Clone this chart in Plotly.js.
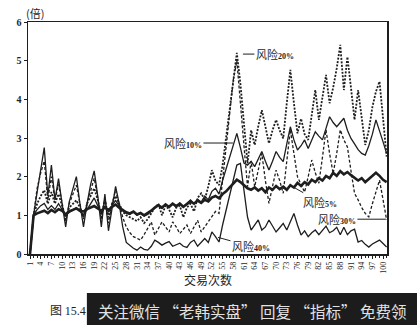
<!DOCTYPE html>
<html>
<head>
<meta charset="utf-8">
<script src="https://cdn.plot.ly/plotly-3.0.1.min.js"></script>
<style>
html,body{margin:0;padding:0;background:#fff;}
#chart{width:417px;height:325px;}
</style>
</head>
<body>
<div id="chart"></div>
<script>
// Data (multiples, by trade number 1..101)
const risk5 = [0, 1.0, 1.05, 1.08, 1.12, 1.06, 1.14, 1.08, 1.16, 1.12,
  1.02, 1.1, 1.14, 1.18, 1.12, 1.1, 1.16, 1.2, 1.24, 1.18,
  1.12, 1.2, 1.14, 1.22, 1.28, 1.2, 1.14, 1.08, 1.05, 1.1,
  1.02, 1.06, 1.0, 1.05, 1.12, 1.2, 1.26, 1.2, 1.28, 1.22,
  1.3, 1.24, 1.3, 1.22, 1.28, 1.36, 1.3, 1.38, 1.32, 1.4,
  1.36, 1.46, 1.5, 1.44, 1.55, 1.62, 1.72, 1.82, 1.92, 1.86,
  1.78, 1.7, 1.66, 1.72, 1.64, 1.7, 1.6, 1.72, 1.66, 1.76,
  1.68, 1.74, 1.66, 1.78, 1.72, 1.84, 1.76, 1.86, 1.8, 1.92,
  1.86, 1.96, 1.9, 2.02, 1.96, 2.1, 2.02, 2.14, 2.06, 2.12,
  2.04, 1.96, 1.9, 1.96, 1.86, 1.94, 2.02, 2.1, 2.02, 1.92,
  1.86];
const risk10 = [0, 1.0, 1.15, 1.25, 1.31, 1.15, 1.25, 1.15, 1.3, 1.15,
  1.0, 1.08, 1.14, 1.2, 1.1, 1.02, 1.15, 1.3, 1.45, 1.25,
  1.05, 1.25, 1.08, 1.25, 1.38, 1.25, 1.12, 1.05, 1.02, 1.08,
  1.0, 1.05, 0.98, 1.02, 1.1, 1.2, 1.28, 1.18, 1.3, 1.2,
  1.3, 1.2, 1.32, 1.22, 1.3, 1.4, 1.3, 1.42, 1.34, 1.5,
  1.4, 1.62, 1.7, 1.55, 1.9, 2.2, 2.5, 2.8, 3.12, 2.75,
  2.35, 2.3, 2.4, 2.26, 2.45, 2.65, 2.4, 2.17, 2.4, 2.65,
  2.5, 2.39, 2.85, 3.29, 2.95, 2.69, 2.8, 2.95, 2.73, 2.95,
  3.16, 3.05, 2.95, 3.25, 3.55, 3.4, 3.29, 3.4, 3.51, 3.2,
  2.99, 2.85, 2.7, 2.6, 2.56, 2.8, 3.1, 3.47, 3.2, 2.9,
  2.6];
const risk20 = [0, 1.0, 1.3, 1.5, 1.65, 1.3, 1.6, 1.3, 1.55, 1.25,
  0.95, 1.2, 1.3, 1.39, 1.2, 0.95, 1.3, 1.5, 1.7, 1.4,
  1.0, 1.4, 0.95, 1.3, 1.5, 1.3, 1.1, 1.0, 0.95, 0.9,
  0.85, 0.95, 0.8, 0.9, 1.05, 1.2, 1.3, 1.0, 1.25, 1.15,
  0.95, 1.2, 1.25, 0.95, 1.2, 1.3, 1.1, 1.45, 1.57, 1.4,
  1.75, 2.17, 1.9, 1.78, 2.3, 3.0, 3.81, 4.5, 5.2, 4.4,
  3.3, 2.34, 3.2, 2.82, 3.3, 3.72, 3.3, 2.86, 3.2, 3.47,
  3.2, 2.99, 3.9, 4.76, 3.9, 3.12, 3.5, 3.1, 2.95, 3.6,
  4.24, 3.47, 4.1, 4.63, 3.9, 4.3, 4.8, 5.41, 4.24, 5.1,
  4.3, 3.47, 4.24, 3.5, 2.82, 3.2, 3.8, 4.2, 4.46, 3.5,
  2.52];
const risk30 = [0, 1.0, 1.7, 2.1, 2.4, 1.4, 2.0, 1.4, 1.8, 1.3,
  0.85, 1.3, 1.55, 1.78, 1.3, 0.9, 1.3, 1.6, 1.96, 1.45,
  0.9, 1.45, 0.8, 1.3, 1.65, 1.3, 0.95, 0.7, 0.55, 0.45,
  0.4, 0.36, 0.5, 0.65, 0.83, 0.49, 0.65, 0.83, 0.7, 0.57,
  0.83, 0.7, 0.53, 0.65, 0.75, 0.53, 0.7, 0.87, 0.57, 0.7,
  0.83, 0.95, 1.1, 1.05, 1.9, 2.8, 3.7, 4.5, 5.0, 4.0,
  2.8, 1.74, 2.4, 1.74, 2.2, 2.6, 1.9, 1.31, 1.75, 2.17,
  1.9, 1.57, 2.4, 3.21, 2.6, 2.0, 1.8, 1.6, 2.0, 2.43,
  2.1, 1.83, 2.5, 3.21, 2.6, 2.08, 2.6, 3.21, 2.95, 2.77,
  2.15, 1.57, 1.4, 1.2, 1.05, 0.96, 1.3, 1.6, 1.91, 1.4,
  0.88];
const risk40 = [0, 1.0, 1.6, 2.2, 2.75, 1.5, 2.3, 1.4, 1.95, 1.3,
  0.7, 1.35, 1.7, 2.0, 1.3, 0.7, 1.3, 1.8, 2.15, 1.5,
  0.7, 1.55, 0.6, 1.2, 1.75, 1.3, 0.7, 0.3, 0.22, 0.15,
  0.1, 0.18, 0.12, 0.1, 0.2, 0.36, 0.3, 0.23, 0.28, 0.32,
  0.2, 0.24, 0.28, 0.2, 0.17, 0.3, 0.36, 0.2, 0.3, 0.4,
  0.3, 0.57, 0.45, 0.31, 0.75, 1.15, 1.55, 1.95, 2.3, 2.34,
  1.6, 0.95, 0.62, 0.75, 0.88, 0.62, 0.7, 0.88, 0.72, 0.57,
  0.68, 0.79, 0.62, 0.85, 1.05, 0.75, 0.49, 0.6, 0.45, 0.55,
  0.62, 0.5, 0.6, 0.72, 0.55, 0.6, 0.69, 0.5, 0.69, 0.5,
  0.6, 0.64, 0.31, 0.35, 0.25, 0.18, 0.26, 0.3, 0.36, 0.27,
  0.18];
const tickVals = [1,4,7,10,13,16,19,22,25,28,31,34,37,40,43,46,49,52,55,58,61,64,67,70,73,76,79,82,85,88,91,94,97,100];
const tickText = tickVals.map(String);
const seriesNames = ["风险5%", "风险10%", "风险20%", "风险30%", "风险40%"];

const trades = risk5.map((_, i) => i + 1);
const ink = "#1e1e1e";
const cjk = "Noto Sans CJK SC";
const serif = "Liberation Serif";

const traces = [
  {x: trades, y: risk40, name: seriesNames[4], mode: "lines", line: {color: ink, width: 1.3}},
  {x: trades, y: risk30, name: seriesNames[3], mode: "lines", line: {color: ink, width: 1.3, dash: "3px,2px"}},
  {x: trades, y: risk20, name: seriesNames[2], mode: "lines", line: {color: ink, width: 1.8, dash: "2px,1.5px"}},
  {x: trades, y: risk10, name: seriesNames[1], mode: "lines", line: {color: ink, width: 1.3}},
  {x: trades, y: risk5, name: seriesNames[0], mode: "lines", line: {color: ink, width: 2.6}}
];

function lbl(name) {
  const m = name.match(/^(\D+)(\d+%)$/);
  return m[1] + '<span style="font-family:Liberation Serif;font-weight:bold;font-size:8px">' + m[2] + '</span>';
}
function arrowNote(name, x, y, ax, ay) {
  return {x: x, y: y, xref: "x", yref: "y", text: lbl(name), showarrow: true, arrowhead: 0,
    arrowwidth: 1, arrowcolor: ink, ax: ax, ay: ay, standoff: 0,
    font: {family: cjk, size: 11, color: ink}};
}
function paperNote(text, x, y, xanchor, size, color) {
  return {x: x, y: y, xref: "paper", yref: "paper", xanchor: xanchor, yanchor: "middle",
    text: text, showarrow: false, font: {family: cjk, size: size, color: color || ink}};
}

const layout = {
  width: 417, height: 325,
  margin: {l: 28, r: 30, t: 22, b: 71, pad: 0},
  paper_bgcolor: "#fff", plot_bgcolor: "#fff",
  showlegend: false,
  xaxis: {
    range: [0.44, 101.1], tickmode: "array", tickvals: tickVals, ticktext: tickText,
    tickangle: -90, tickfont: {family: serif, size: 8, color: ink},
    ticks: "outside", ticklen: 3, tickcolor: ink, tickwidth: 1,
    showline: true, linecolor: ink, linewidth: 1.5, mirror: true,
    showgrid: false, zeroline: false,
    minor: {tick0: 1, dtick: 1, ticks: "outside", ticklen: 2, tickcolor: ink, showgrid: false}
  },
  yaxis: {
    range: [0, 6], dtick: 1, tick0: 0,
    tickfont: {family: serif, size: 10, color: ink, weight: "bold"},
    ticks: "outside", ticklen: 3, tickcolor: ink,
    showline: true, linecolor: ink, linewidth: 1.5, mirror: true,
    showgrid: false, zeroline: false
  },
  shapes: [
    {type: "rect", xref: "paper", yref: "paper", x0: 0.164, x1: 1.1, y0: -0.168, y1: -0.33,
     fillcolor: "#1c1c1c", line: {width: 0}, layer: "above"}
  ],
  annotations: [
    paperNote("(倍)", 0.0195, 1.039, "center", 11),
    paperNote("交易次数", 0.501, -0.112, "center", 12),
    paperNote('图 <span style="font-family:Liberation Serif">15.4</span>', 0.167, -0.241, "right", 12),
    paperNote("关注微信 “老韩实盘” 回复 “指标” 免费领", 0.189, -0.246, "left", 15.5, "#e2e2e2"),
    arrowNote(seriesNames[2], 60.7, 5.17, 32, 0),
    arrowNote(seriesNames[1], 57.9, 2.87, -50, 0),
    arrowNote(seriesNames[0], 73.9, 1.78, 30, 17),
    arrowNote(seriesNames[3], 100.8, 0.9, -49, 0),
    arrowNote(seriesNames[4], 53.7, 0.43, 33, 9)
  ]
};

Plotly.newPlot("chart", traces, layout, {staticPlot: true, displayModeBar: false});
</script>
</body>
</html>
